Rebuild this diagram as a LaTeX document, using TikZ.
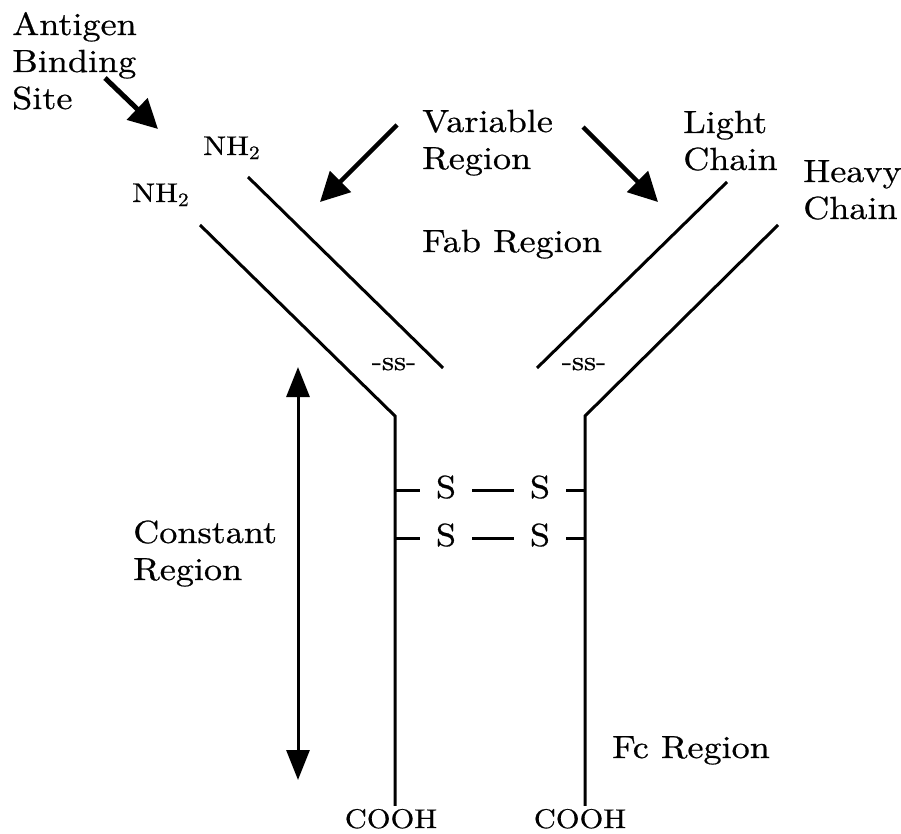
\documentclass[tikz,border=0pt]{standalone}
\usepackage{fontspec}
\newfontfamily\lbfont{lmroman10-regular}[Extension=.otf, FakeStretch=1.13, FakeBold=0.6]
\usetikzlibrary{arrows.meta}
\begin{document}
\begin{tikzpicture}[x=1pt,y=-1pt,
  lbl/.style={font=\lbfont\fontsize{32}{37}\selectfont, inner sep=0pt, anchor=base west},
  small/.style={font=\lbfont\fontsize{27}{30}\selectfont, inner sep=0pt},
  chain/.style={line width=3pt, line join=miter},
  bigarrow/.style={line width=4.5pt, -{Triangle[length=29pt,width=29pt]}},
  dblarrow/.style={line width=3pt, {Triangle[length=30pt,width=23pt]}-{Triangle[length=30pt,width=23pt]}},
  sbond/.style={font=\lbfont\fontsize{32}{37}\selectfont, inner ysep=0pt, inner xsep=16pt, anchor=base},
  bond/.style={line width=3pt}]
\useasboundingbox (0,0) rectangle (901,834);

% labels
\node[lbl] (antigen) at (12,35) {\begin{tabular}[t]{@{}l@{}}Antigen\\Binding\\Site\end{tabular}};
\node[lbl] (variable) at (422,132) {\begin{tabular}[t]{@{}l@{}}Variable\\Region\end{tabular}};
\node[lbl] (light) at (683,133) {\begin{tabular}[t]{@{}l@{}}Light\\Chain\end{tabular}};
\node[lbl] (heavy) at (803,182) {\begin{tabular}[t]{@{}l@{}}Heavy\\Chain\end{tabular}};
\node[lbl] (fab) at (422,252) {Fab Region};
\node[lbl] (constant) at (133,543) {\begin{tabular}[t]{@{}l@{}}Constant\\Region\end{tabular}};
\node[lbl] (fc) at (612,758) {Fc Region};

\node[small, anchor=base west] (nh2a) at (203,155) {NH\textsubscript{2}};
\node[small, anchor=base west] (nh2b) at (132,202) {NH\textsubscript{2}};
\node[small, anchor=base] (ssL) at (394,370) {-ss-};
\node[small, anchor=base] (ssR) at (584,370) {-ss-};
\node[small, anchor=base, inner sep=3pt] (coohL) at (391,828) {COOH};
\node[small, anchor=base, inner sep=3pt] (coohR) at (580,828) {COOH};

% chains
\coordinate (lhTop) at (200,225);
\coordinate (lhKink) at (395,416);
\coordinate (llTop) at (248,177);
\coordinate (llEnd) at (443,368);
\coordinate (rlTop) at (727,182);
\coordinate (rlEnd) at (537,368);
\coordinate (rhTop) at (778,225);
\coordinate (rhKink) at (585,416);

\draw[chain] (lhTop) -- (lhKink) -- (lhKink |- coohL.north);
\draw[chain] (rhTop) -- (rhKink) -- (rhKink |- coohR.north);
\draw[chain] (llTop) -- (llEnd);
\draw[chain] (rlTop) -- (rlEnd);

% disulfide bonds
\node[sbond] (s1l) at (446,498) {S};
\node[sbond] (s1r) at (540,498) {S};
\node[sbond] (s2l) at (446,546) {S};
\node[sbond] (s2r) at (540,546) {S};
\coordinate (b1y) at (0,490);
\coordinate (b2y) at (0,538);
\draw[bond] (lhKink |- b1y) -- (s1l.west |- b1y);
\draw[bond] (s1l.east |- b1y) -- (s1r.west |- b1y);
\draw[bond] (s1r.east |- b1y) -- (rhKink |- b1y);
\draw[bond] (lhKink |- b2y) -- (s2l.west |- b2y);
\draw[bond] (s2l.east |- b2y) -- (s2r.west |- b2y);
\draw[bond] (s2r.east |- b2y) -- (rhKink |- b2y);

% arrows
\coordinate (agStart) at (105,78);
\coordinate (agTip) at (158,129);
\draw[bigarrow, line width=5pt] (agStart) -- (agTip);
\coordinate (vlStart) at (397,125);
\coordinate (vlTip) at (320,202);
\draw[bigarrow] (vlStart) -- (vlTip);
\coordinate (vrStart) at (583,127);
\coordinate (vrTip) at (658,202);
\draw[bigarrow] (vrStart) -- (vrTip);
\coordinate (cTop) at (298,367);
\coordinate (cBot) at (298,780);
\draw[dblarrow] (cTop) -- (cBot);
\end{tikzpicture}
\end{document}
